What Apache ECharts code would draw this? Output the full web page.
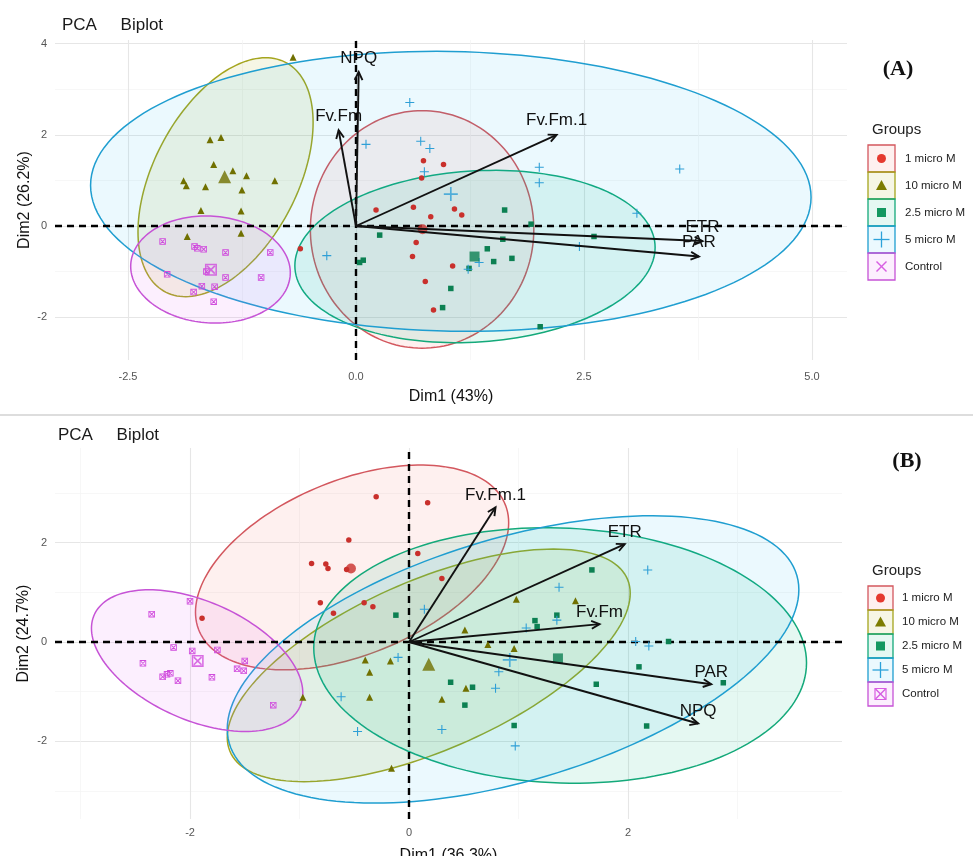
<!DOCTYPE html>
<html><head><meta charset="utf-8">
<script src="https://cdn.jsdelivr.net/npm/echarts@6/dist/echarts.min.js"></script>
<style>html,body{margin:0;padding:0;background:#fff}#c{width:973px;height:856px}</style>
</head><body><div id="c"></div>
<script>
// ---------- shared ----------
const groups = ['1 micro M', '10 micro M', '2.5 micro M', '5 micro M', 'Control'];

// ---------- Panel A data ----------
const a_1uM = [[0.74,1.43],[0.96,1.35],[0.72,1.05],[0.22,0.35],[0.63,0.41],[0.82,0.20],[1.08,0.37],[1.16,0.24],[0.66,-0.36],[0.62,-0.67],[1.06,-0.88],[0.76,-1.22],[0.85,-1.84],[-0.61,-0.50]];
const a_10uM = [[-0.69,3.70],[-1.60,1.89],[-1.48,1.94],[-1.56,1.35],[-1.35,1.21],[-1.20,1.10],[-0.89,0.99],[-1.89,0.99],[-1.86,0.88],[-1.65,0.86],[-1.25,0.79],[-1.70,0.34],[-1.26,0.33],[-1.26,-0.16],[-1.85,-0.23]];
const a_25uM = [[1.63,0.35],[0.26,-0.20],[1.44,-0.50],[1.51,-0.78],[1.71,-0.71],[1.24,-0.93],[1.04,-1.37],[0.95,-1.79],[0.08,-0.75],[0.04,-0.80],[2.02,-2.21],[1.92,0.04],[1.61,-0.29],[2.61,-0.23]];
const a_5uM = [[0.59,2.71],[0.11,1.79],[0.71,1.86],[0.81,1.70],[0.75,1.19],[-0.32,-0.65],[1.23,-0.95],[1.35,-0.80],[2.01,1.29],[2.01,0.95],[3.55,1.25],[3.08,0.28],[2.45,-0.45]];
const a_ctrl = [[-2.12,-0.34],[-1.77,-0.45],[-1.74,-0.49],[-1.67,-0.51],[-1.43,-0.58],[-0.94,-0.58],[-2.07,-1.06],[-1.64,-1.00],[-1.43,-1.13],[-1.04,-1.13],[-1.69,-1.32],[-1.55,-1.33],[-1.78,-1.45],[-1.56,-1.66]];
const a_means = [[0.73,-0.07],[-1.44,1.08],[1.30,-0.67],[1.04,0.70],[-1.59,-0.96]];
// ellipse: [centerX, centerY, halfWidth, yOffsetAtRightEnd, halfHeight]
const a_ellipses = [[0.725,-0.075,1.225,0.0,2.605],[-1.43,1.07,0.96,1.2,2.62],[1.305,-0.67,1.975,0.2,1.89],[1.04,0.76,3.95,-0.13,3.07],[-1.595,-0.955,0.875,-0.07,1.175]];
const a_varNames = ['NPQ','Fv.Fm','Fv.Fm.1','ETR','PAR'];
const a_varX = [0.03,-0.19,2.20,3.80,3.76];
const a_varY = [3.38,2.10,2.00,-0.33,-0.67];
const a_xTicks = [-2.5,0,2.5,5];
const a_xTickLabels = ['-2.5','0.0','2.5','5.0'];
const a_xMinor = [-1.25,1.25,3.75];
const a_yTicks = [-2,0,2,4];
const a_yTickLabels = ['-2','0','2','4'];
const a_yMinor = [-1,1,3];

// ---------- Panel B data ----------
const b_1uM = [[-0.30,2.92],[0.17,2.80],[-0.55,2.05],[-0.89,1.58],[-0.76,1.57],[-0.74,1.48],[-0.57,1.46],[-0.81,0.79],[-0.41,0.79],[-0.33,0.71],[-0.69,0.58],[-1.89,0.48],[0.30,1.28],[0.08,1.78]];
const b_10uM = [[-0.40,-0.36],[-0.17,-0.38],[-0.36,-0.61],[-0.36,-1.11],[-0.16,-2.54],[-0.97,-1.11],[0.98,0.86],[1.52,0.83],[0.51,0.24],[0.72,-0.05],[0.96,-0.13],[0.52,-0.93],[0.30,-1.15]];
const b_25uM = [[1.67,1.45],[-0.12,0.54],[1.15,0.43],[1.17,0.31],[1.35,0.54],[2.37,0.01],[0.38,-0.81],[0.58,-0.91],[0.51,-1.27],[1.71,-0.85],[0.96,-1.68],[2.17,-1.69],[2.10,-0.50],[2.87,-0.82]];
const b_5uM = [[0.14,0.66],[-0.10,-0.31],[-0.62,-1.10],[-0.47,-1.80],[0.30,-1.76],[1.37,1.10],[2.18,1.45],[1.35,0.44],[1.07,0.28],[0.82,-0.60],[0.79,-0.93],[0.97,-2.09],[2.07,0.01],[2.19,-0.08]];
const b_ctrl = [[-2.00,0.82],[-2.35,0.56],[-2.15,-0.11],[-1.98,-0.18],[-1.75,-0.16],[-2.43,-0.43],[-1.50,-0.38],[-1.57,-0.54],[-1.51,-0.58],[-2.25,-0.70],[-2.21,-0.65],[-2.18,-0.63],[-2.11,-0.78],[-1.80,-0.71],[-1.24,-1.27]];
const b_means = [[-0.53,1.48],[0.18,-0.45],[1.36,-0.33],[0.92,-0.36],[-1.93,-0.38]];
const b_ellipses = [[-0.52,1.50,1.43,0.9,2.06],[0.18,-0.47,1.84,1.45,2.34],[1.38,-0.27,2.25,-0.15,2.57],[0.95,-0.35,2.61,1.4,2.89],[-1.935,-0.375,0.965,-0.65,1.425]];
const b_varNames = ['Fv.Fm.1','ETR','Fv.Fm','PAR','NPQ'];
const b_varX = [0.79,1.97,1.74,2.76,2.64];
const b_varY = [2.71,1.97,0.36,-0.85,-1.64];
const b_xTicks = [-2,0,2];
const b_xTickLabels = ['-2','0','2'];
const b_xMinor = [-3,-1,1,3];
const b_yTicks = [-2,0,2];
const b_yTickLabels = ['-2','0','2'];
const b_yMinor = [-3,-1,1,3];

// ---------- styles ----------
const pointColors = ['#C9302C','#707000','#0C8052','#2E9FD6','#D04CDD'];
const lineColors  = ['#D3575E','#A5A51E','#14A97A','#1F9ED0','#C653D6'];
const fillColors  = ['rgba(248,118,109,0.11)','rgba(163,165,0,0.10)','rgba(0,191,125,0.10)','rgba(0,176,246,0.08)','rgba(231,107,243,0.11)'];
const iconColors  = ['#E5392F','#7D7D00','#139860','#2CA2DA','#D75EE2'];
const FONT = '"Liberation Sans", Arial, sans-serif';
const PLUS = 'path://M4.4,0H5.6V10H4.4Z M0,4.4H10V5.6H0Z';
const BOXX = 'path://M0,0H10V10H0Z M1.3,1.3V8.7H8.7V1.3Z M1.3,2.3L2.3,1.3L8.7,7.7L7.7,8.7Z M7.7,1.3L8.7,2.3L2.3,8.7L1.3,7.7Z';
const symbols = ['circle','triangle','rect',PLUS,BOXX];
const symSize = [5.5,7,5.5,9,6.5];
const meanSize = [10,13,10,14,12];

function labelFor(ticks, labels){
  return v => { const i = ticks.findIndex(t => Math.abs(t - v) < 1e-6); return i >= 0 ? labels[i] : ''; };
}

function axesFor(gi, xr, yr, xt, xl, xm, yt, yl, ym, xName, yName, xLabMargin, xNameGap, yNameGap){
  const major = {color:'#e6e6e6', width:1.1};
  const minor = {color:'#f3f3f3', width:0.7};
  const xs = [
    {gridIndex:gi, type:'value', min:xr[0], max:xr[1], position:'bottom',
     axisLine:{show:false}, axisTick:{show:false, customValues:xt},
     axisLabel:{customValues:xt, formatter:labelFor(xt,xl), color:'#555', fontSize:11, fontFamily:FONT, margin:xLabMargin},
     splitLine:{show:true, lineStyle:major}, nameMoveOverlap:false,
     name:xName, nameLocation:'middle', nameGap:xNameGap, nameTextStyle:{color:'#111', fontSize:16, fontFamily:FONT}},
    {gridIndex:gi, type:'value', min:xr[0], max:xr[1], position:'top',
     axisLine:{show:false}, axisTick:{show:false, customValues:xm}, axisLabel:{show:false, customValues:xm},
     splitLine:{show:true, lineStyle:minor}}
  ];
  const ys = [
    {gridIndex:gi, type:'value', min:yr[0], max:yr[1], position:'left',
     axisLine:{show:false}, axisTick:{show:false, customValues:yt},
     axisLabel:{customValues:yt, formatter:labelFor(yt,yl), color:'#555', fontSize:11, fontFamily:FONT, margin:8},
     splitLine:{show:true, lineStyle:major}, nameMoveOverlap:false,
     name:yName, nameLocation:'middle', nameGap:yNameGap, nameRotate:90, nameTextStyle:{color:'#111', fontSize:16, fontFamily:FONT}},
    {gridIndex:gi, type:'value', min:yr[0], max:yr[1], position:'right',
     axisLine:{show:false}, axisTick:{show:false, customValues:ym}, axisLabel:{show:false, customValues:ym},
     splitLine:{show:true, lineStyle:minor}}
  ];
  return {xs, ys};
}

function panelSeries(ax, ellipses, obs, means, varNames, varX, varY, labelLift){
  const s = [];
  ellipses.forEach((e, g) => {
    s.push({type:'custom', name:groups[g], xAxisIndex:ax, yAxisIndex:ax, clip:true, z:1, silent:true,
      data:[e], encode:{x:0, y:1},
      renderItem(p, api){
        const cx = api.value(0), cy = api.value(1), w = api.value(2), r = api.value(3), h = api.value(4);
        const sv = Math.sqrt(Math.max(h*h - r*r, 0));
        const pts = [];
        for (let k = 0; k < 160; k++){
          const t = 2*Math.PI*k/160;
          pts.push(api.coord([cx + w*Math.cos(t), cy + r*Math.cos(t) + sv*Math.sin(t)]));
        }
        return {type:'polygon', shape:{points:pts}, style:{fill:fillColors[g], stroke:lineColors[g], lineWidth:1.5}};
      }});
  });
  obs.forEach((d, g) => {
    const ser = {type:'scatter', name:groups[g], xAxisIndex:ax, yAxisIndex:ax, z:3, data:d,
      symbol:symbols[g], symbolSize:symSize[g], itemStyle:{color:pointColors[g], opacity:1}};
    if (g === 0){
      ser.markLine = {silent:true, symbol:['none','none'], label:{show:false}, z:2,
        lineStyle:{color:'#000', width:2.4, type:[7,5]}, data:[{xAxis:0},{yAxis:0}]};
    }
    s.push(ser);
  });
  s.push({type:'scatter', name:'means', xAxisIndex:ax, yAxisIndex:ax, z:4,
    data: means.map((m, g) => ({value:m, symbol:symbols[g], symbolSize:meanSize[g], itemStyle:{color:pointColors[g]}}))});
  s.push({type:'custom', name:'variables', xAxisIndex:ax, yAxisIndex:ax, z:6, clip:false, silent:true,
    data: varX.map((x, i) => [x, varY[i]]), encode:{x:0, y:1},
    renderItem(p, api){
      const o = api.coord([0,0]);
      const t = api.coord([api.value(0), api.value(1)]);
      const ang = Math.atan2(t[1]-o[1], t[0]-o[0]);
      const L = 9, a = Math.PI/7;
      const h1 = [t[0]-L*Math.cos(ang-a), t[1]-L*Math.sin(ang-a)];
      const h2 = [t[0]-L*Math.cos(ang+a), t[1]-L*Math.sin(ang+a)];
      return {type:'group', children:[
        {type:'line', shape:{x1:o[0], y1:o[1], x2:t[0], y2:t[1]}, style:{stroke:'#111', lineWidth:1.9}},
        {type:'polyline', shape:{points:[h1, t, h2]}, style:{stroke:'#111', lineWidth:1.9, fill:null}},
        {type:'text', style:{text:varNames[p.dataIndex], x:t[0], y:t[1]-labelLift, align:'center', verticalAlign:'middle',
          fontSize:17, fontFamily:FONT, fill:'#111'}}
      ]};
    }});
  return s;
}

function legendGraphics(titleY, top, step, boxX, boxW, textX, boxedCtrl){
  const els = [{type:'text', x:boxX+4, y:titleY, style:{text:'Groups', fontSize:15, fontFamily:FONT, fill:'#222', verticalAlign:'middle'}}];
  groups.forEach((name, g) => {
    const y0 = top + g*step, cy = y0 + step/2, cx = boxX + boxW/2;
    els.push({type:'rect', shape:{x:boxX, y:y0, width:boxW, height:step}, style:{fill:fillColors[g], stroke:lineColors[g], lineWidth:1.3}});
    const col = iconColors[g];
    if (g === 0) els.push({type:'circle', shape:{cx, cy, r:4.5}, style:{fill:col}});
    if (g === 1) els.push({type:'polygon', shape:{points:[[cx,cy-5.5],[cx+5.5,cy+4.5],[cx-5.5,cy+4.5]]}, style:{fill:col}});
    if (g === 2) els.push({type:'rect', shape:{x:cx-4.5, y:cy-4.5, width:9, height:9}, style:{fill:col}});
    if (g === 3){
      els.push({type:'line', shape:{x1:cx-8, y1:cy, x2:cx+8, y2:cy}, style:{stroke:col, lineWidth:1.3}});
      els.push({type:'line', shape:{x1:cx, y1:cy-8, x2:cx, y2:cy+8}, style:{stroke:col, lineWidth:1.3}});
    }
    if (g === 4){
      if (boxedCtrl) els.push({type:'rect', shape:{x:cx-5.5, y:cy-5.5, width:11, height:11}, style:{fill:null, stroke:col, lineWidth:1.2}});
      els.push({type:'line', shape:{x1:cx-5, y1:cy-5, x2:cx+5, y2:cy+5}, style:{stroke:col, lineWidth:1.4}});
      els.push({type:'line', shape:{x1:cx+5, y1:cy-5, x2:cx-5, y2:cy+5}, style:{stroke:col, lineWidth:1.4}});
    }
    els.push({type:'text', x:textX, y:cy, style:{text:name, fontSize:11.5, fontFamily:FONT, fill:'#222', verticalAlign:'middle'}});
  });
  return els;
}

const A = axesFor(0, [-3.30,5.384], [-2.939,4.079], a_xTicks, a_xTickLabels, a_xMinor, a_yTicks, a_yTickLabels, a_yMinor,
  'Dim1 (43%)', 'Dim2 (26.2%)', 11, 29, 22);
const B = axesFor(1, [-3.233,3.954], [-3.561,3.903], b_xTicks, b_xTickLabels, b_xMinor, b_yTicks, b_yTickLabels, b_yMinor,
  'Dim1 (36.3%)', 'Dim2 (24.7%)', 8, 29, 23);

const option = {
  animation:false,
  backgroundColor:'#fff',
  title:[
    {text:'PCA     Biplot', left:57, top:12, textStyle:{fontSize:17, fontWeight:'normal', color:'#1a1a1a', fontFamily:FONT}},
    {text:'PCA     Biplot', left:53, top:422, textStyle:{fontSize:17, fontWeight:'normal', color:'#1a1a1a', fontFamily:FONT}}
  ],
  grid:[
    {left:55, top:40, width:792, height:320, outerBoundsMode:'none', containLabel:false},
    {left:55, top:448, width:787, height:371, outerBoundsMode:'none', containLabel:false}
  ],
  xAxis:[...A.xs, ...B.xs],
  yAxis:[...A.ys, ...B.ys],
  series:[
    ...panelSeries(0, a_ellipses, [a_1uM,a_10uM,a_25uM,a_5uM,a_ctrl], a_means, a_varNames, a_varX, a_varY, 14),
    ...panelSeries(2, b_ellipses, [b_1uM,b_10uM,b_25uM,b_5uM,b_ctrl], b_means, b_varNames, b_varX, b_varY, 12)
  ],
  graphic:[
    {type:'line', shape:{x1:0, y1:415, x2:973, y2:415}, style:{stroke:'#d2d2d2', lineWidth:1.5}},
    {type:'text', x:898, y:69, style:{text:'(A)', fontSize:22, fontWeight:'bold', fontFamily:'"Liberation Serif", "Times New Roman", serif', fill:'#111', align:'center', verticalAlign:'middle'}},
    {type:'text', x:907, y:461, style:{text:'(B)', fontSize:22, fontWeight:'bold', fontFamily:'"Liberation Serif", "Times New Roman", serif', fill:'#111', align:'center', verticalAlign:'middle'}},
    ...legendGraphics(130, 145, 27, 868, 27, 905, false),
    ...legendGraphics(571, 586, 24, 868, 25, 902, true)
  ]
};
const chart = echarts.init(document.getElementById('c'));
chart.setOption(option);
</script></body></html>
